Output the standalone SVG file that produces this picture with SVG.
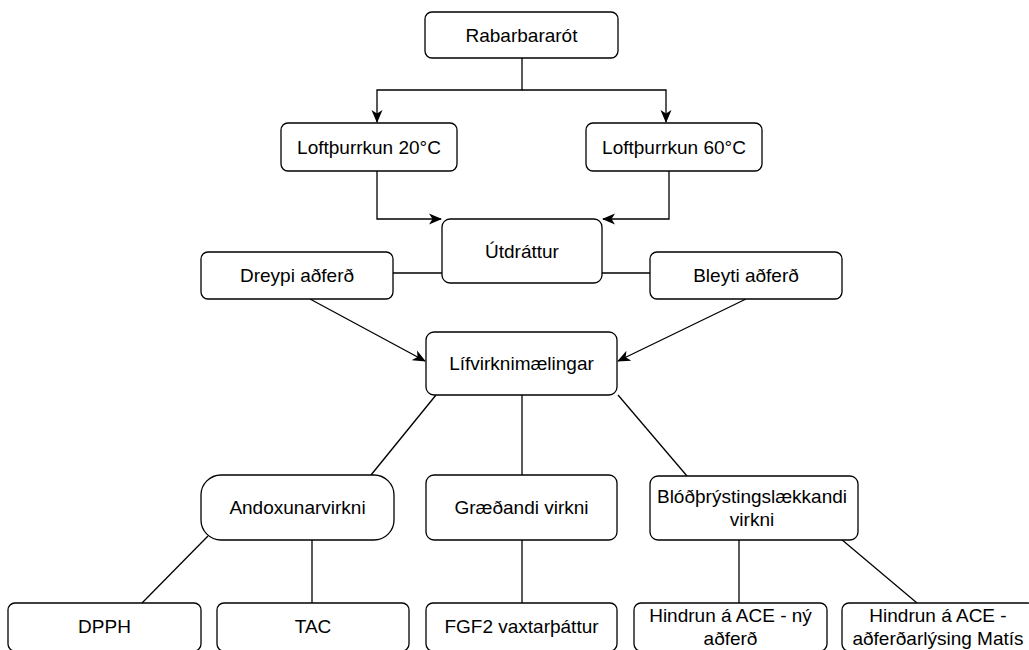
<svg xmlns="http://www.w3.org/2000/svg" width="1029" height="650" viewBox="0 0 1029 650">
<style>
.box{fill:#fff;stroke:#000;stroke-width:1.3}
.t{font-family:"Liberation Sans",Arial,Helvetica,sans-serif;font-size:19px;fill:#000;text-anchor:middle}
.c{fill:none;stroke:#000;stroke-width:1.3}
</style>
<defs>
<marker id="ah" markerWidth="13" markerHeight="12" refX="12" refY="6" orient="auto" markerUnits="userSpaceOnUse">
<path d="M0,0.5 L13,6 L0,11.5 L3.5,6 Z" fill="#000"/>
</marker>
</defs>
<rect width="1029" height="650" fill="#fff"/>
<g id="connectors">
<path class="c" d="M522,58 V90 H377 V122" marker-end="url(#ah)"/>
<path class="c" d="M522,90 H666 V122" marker-end="url(#ah)"/>
<path class="c" d="M377,171 V219 H441" marker-end="url(#ah)"/>
<path class="c" d="M669,171 V219 H603" marker-end="url(#ah)"/>
<path class="c" d="M393,273 H442"/>
<path class="c" d="M650,273 H602"/>
<path class="c" d="M310,299 L425,361" marker-end="url(#ah)"/>
<path class="c" d="M746,299 L618,361" marker-end="url(#ah)"/>
<path class="c" d="M436,395 L371,475"/>
<path class="c" d="M522,395 V475"/>
<path class="c" d="M618,395 L687,476"/>
<path class="c" d="M208,536 L142,603"/>
<path class="c" d="M312,540 V603"/>
<path class="c" d="M522,540 V603"/>
<path class="c" d="M739,540 V603"/>
<path class="c" d="M841,539 L917,603"/>
</g>
<g id="n-rabarbararot"><rect class="box" x="425" y="12" width="193" height="46" rx="7"/><text class="t" x="521.5" y="41.5">Rabarbararót</text></g>
<g id="n-loft20"><rect class="box" x="281" y="123" width="176" height="48" rx="7"/><text class="t" x="369" y="153.5">Loftþurrkun 20°C</text></g>
<g id="n-loft60"><rect class="box" x="586" y="123" width="176" height="48" rx="7"/><text class="t" x="674" y="153.5">Loftþurrkun 60°C</text></g>
<g id="n-utdrattur"><rect class="box" x="442" y="219" width="160" height="64" rx="8"/><text class="t" x="522" y="257.5">Útdráttur</text></g>
<g id="n-dreypi"><rect class="box" x="201" y="252" width="192" height="47" rx="7"/><text class="t" x="297" y="282">Dreypi aðferð</text></g>
<g id="n-bleyti"><rect class="box" x="650" y="252" width="192" height="47" rx="7"/><text class="t" x="746" y="282">Bleyti aðferð</text></g>
<g id="n-lifvirkni"><rect class="box" x="426" y="332" width="191" height="63" rx="8"/><text class="t" x="521.5" y="370">Lífvirknimælingar</text></g>
<g id="n-andox"><rect class="box" x="201" y="475" width="193" height="65" rx="20"/><text class="t" x="297.5" y="514">Andoxunarvirkni</text></g>
<g id="n-graedandi"><rect class="box" x="426" y="475" width="191" height="65" rx="8"/><text class="t" x="521.5" y="514">Græðandi virkni</text></g>
<g id="n-blod"><rect class="box" x="650" y="476" width="208" height="64" rx="8"/><text class="t" x="752" y="503">Blóðþrýstingslækkandi</text><text class="t" x="752" y="526">virkni</text></g>
<g id="n-dpph"><rect class="box" x="8" y="603" width="193" height="48" rx="7"/><text class="t" x="104.5" y="633">DPPH</text></g>
<g id="n-tac"><rect class="box" x="217" y="603" width="192" height="48" rx="7"/><text class="t" x="313" y="633">TAC</text></g>
<g id="n-fgf2"><rect class="box" x="426" y="603" width="191" height="48" rx="7"/><text class="t" x="521.5" y="633">FGF2 vaxtarþáttur</text></g>
<g id="n-hindrun-ny"><rect class="box" x="634" y="603" width="193" height="48" rx="7"/><text class="t" x="730.5" y="622">Hindrun á ACE - ný</text><text class="t" x="730.5" y="645">aðferð</text></g>
<g id="n-hindrun-matis"><rect class="box" x="842" y="603" width="193" height="48" rx="7"/><text class="t" x="938" y="622">Hindrun á ACE -</text><text class="t" x="938" y="645">aðferðarlýsing Matís</text></g>
</svg>
